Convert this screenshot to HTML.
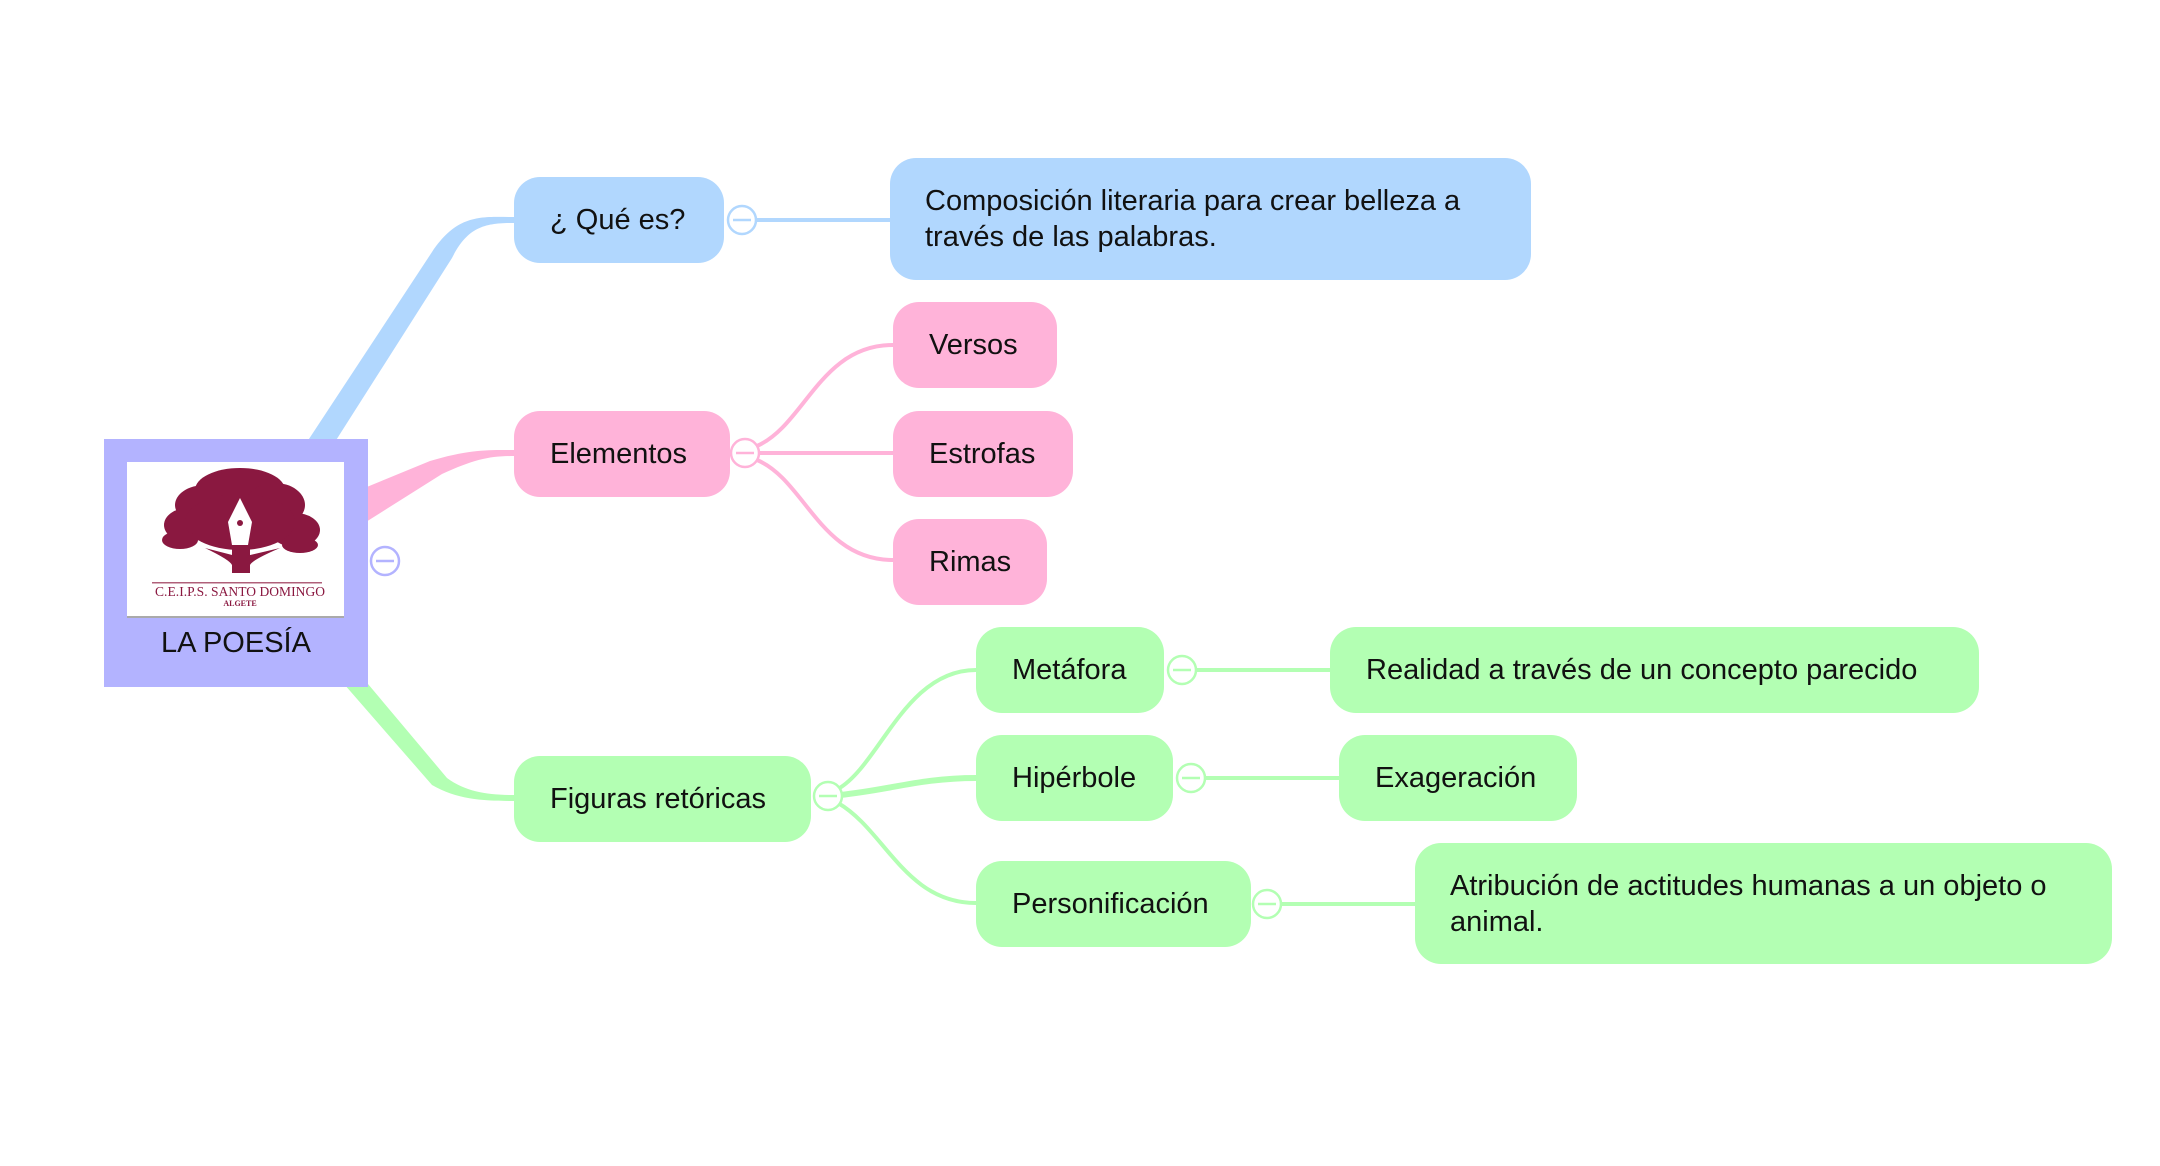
<!DOCTYPE html>
<html><head><meta charset="utf-8"><style>
html,body{margin:0;padding:0;background:#fff;}
body{width:2160px;height:1166px;position:relative;overflow:hidden;font-family:"Liberation Sans",Arial,sans-serif;}
.n{position:absolute;box-sizing:border-box;border-radius:26px;font-size:29px;color:#111;display:flex;align-items:center;padding-left:36px;line-height:36px;}
.b{background:#b1d7fe}.p{background:#ffb3d9}.g{background:#b3ffb3}
svg{position:absolute;left:0;top:0}
</style></head><body>
<svg width="2160" height="1166" viewBox="0 0 2160 1166">
<!-- thick main branches -->
<path d="M305 445 L432 252 C458 213 482 217 514 217 L514 223 C486 223 468 226 452 258 L333 445 Z" fill="#b1d7fe"/>
<path d="M340 498 L430 461 C470 449 490 450 514 450 L514 456 C490 456 475 459 442 474 L350 532 Z" fill="#ffb3d9"/>
<path d="M344 684 L432 785 C458 800 485 801 514 801 L514 795 C488 795 466 792 447 778 L368 684 Z" fill="#b3ffb3"/>
<!-- thin connectors -->
<g fill="none" stroke-width="4">
<path d="M756 220 H890" stroke="#b1d7fe"/>
<g stroke="#ffb3d9">
<path d="M757 446 C805 425 820 345 893 345"/>
<path d="M759 453 H893"/>
<path d="M757 460 C805 480 820 560 893 560"/>
</g>
<g stroke="#b3ffb3">
<path d="M838 789 C880 765 905 670 976 670"/>
<path d="M840 795 C890 790 920 778 976 778" stroke-width="6"/>
<path d="M838 803 C885 830 905 903 976 903"/>
<path d="M1196 670 H1330"/>
<path d="M1205 778 H1339"/>
<path d="M1281 904 H1415"/>
</g>
</g>
<!-- collapse circles -->
<g fill="#fff" stroke-width="2.5">
<g stroke="#b1d7fe"><circle cx="742" cy="220" r="14"/><path d="M733 220h18"/></g>
<g stroke="#ffb3d9"><circle cx="745" cy="453" r="14"/><path d="M736 453h18"/></g>
<g stroke="#b3ffb3"><circle cx="828" cy="796" r="14"/><path d="M819 796h18"/>
<circle cx="1182" cy="670" r="14"/><path d="M1173 670h18"/>
<circle cx="1191" cy="778" r="14"/><path d="M1182 778h18"/>
<circle cx="1267" cy="904" r="14"/><path d="M1258 904h18"/></g>
<g stroke="#b3b3ff"><circle cx="385" cy="561" r="14"/><path d="M376 561h18"/></g>
</g>
<!-- root -->
<rect x="104" y="439" width="264" height="248" fill="#b3b3ff"/>
<rect x="127" y="462" width="217" height="155" fill="#fff"/>
<rect x="127" y="616" width="217" height="2" fill="#aaa"/>
<g fill="#8a1840">
<ellipse cx="240" cy="490" rx="45" ry="22"/>
<ellipse cx="205" cy="505" rx="30" ry="20"/>
<ellipse cx="275" cy="505" rx="30" ry="22"/>
<ellipse cx="188" cy="525" rx="24" ry="17"/>
<ellipse cx="295" cy="530" rx="25" ry="17"/>
<ellipse cx="240" cy="522" rx="55" ry="28"/>
<ellipse cx="180" cy="540" rx="18" ry="9"/>
<ellipse cx="300" cy="545" rx="18" ry="8"/>
<rect x="232" y="545" width="18" height="28"/>
<path d="M205 548 Q230 560 232 565 L236 556 Z"/>
<path d="M280 548 Q252 560 250 565 L246 556 Z"/>
</g>
<path d="M240 498 L252 522 L248 545 L232 545 L228 522 Z" fill="#fff"/>
<circle cx="240" cy="523" r="3" fill="#8a1840"/>
<rect x="152" y="582" width="170" height="1.5" fill="#b0607a"/>
<text x="240" y="596" font-family="Liberation Serif,serif" font-size="13.5" fill="#8a1840" text-anchor="middle" textLength="170">C.E.I.P.S. SANTO DOMINGO</text>
<text x="240" y="606" font-family="Liberation Serif,serif" font-size="8" font-weight="bold" fill="#8a1840" text-anchor="middle">ALGETE</text>
<text x="236" y="652" font-family="Liberation Sans,sans-serif" font-size="29" fill="#111" text-anchor="middle">LA POESÍA</text>
</svg>
<div class="n b" style="left:514px;top:177px;width:210px;height:86px;">¿ Qué es?</div>
<div class="n b" style="left:890px;top:158px;width:641px;height:122px;padding-left:35px;">Composición literaria para crear belleza a<br>través de las palabras.</div>
<div class="n p" style="left:514px;top:411px;width:216px;height:86px;">Elementos</div>
<div class="n p" style="left:893px;top:302px;width:164px;height:86px;">Versos</div>
<div class="n p" style="left:893px;top:411px;width:180px;height:86px;">Estrofas</div>
<div class="n p" style="left:893px;top:519px;width:154px;height:86px;">Rimas</div>
<div class="n g" style="left:514px;top:756px;width:297px;height:86px;">Figuras retóricas</div>
<div class="n g" style="left:976px;top:627px;width:188px;height:86px;">Metáfora</div>
<div class="n g" style="left:1330px;top:627px;width:649px;height:86px;">Realidad a través de un concepto parecido</div>
<div class="n g" style="left:976px;top:735px;width:197px;height:86px;">Hipérbole</div>
<div class="n g" style="left:1339px;top:735px;width:238px;height:86px;">Exageración</div>
<div class="n g" style="left:976px;top:861px;width:275px;height:86px;">Personificación</div>
<div class="n g" style="left:1415px;top:843px;width:697px;height:121px;padding-left:35px;">Atribución de actitudes humanas a un objeto o<br>animal.</div>
</body></html>
